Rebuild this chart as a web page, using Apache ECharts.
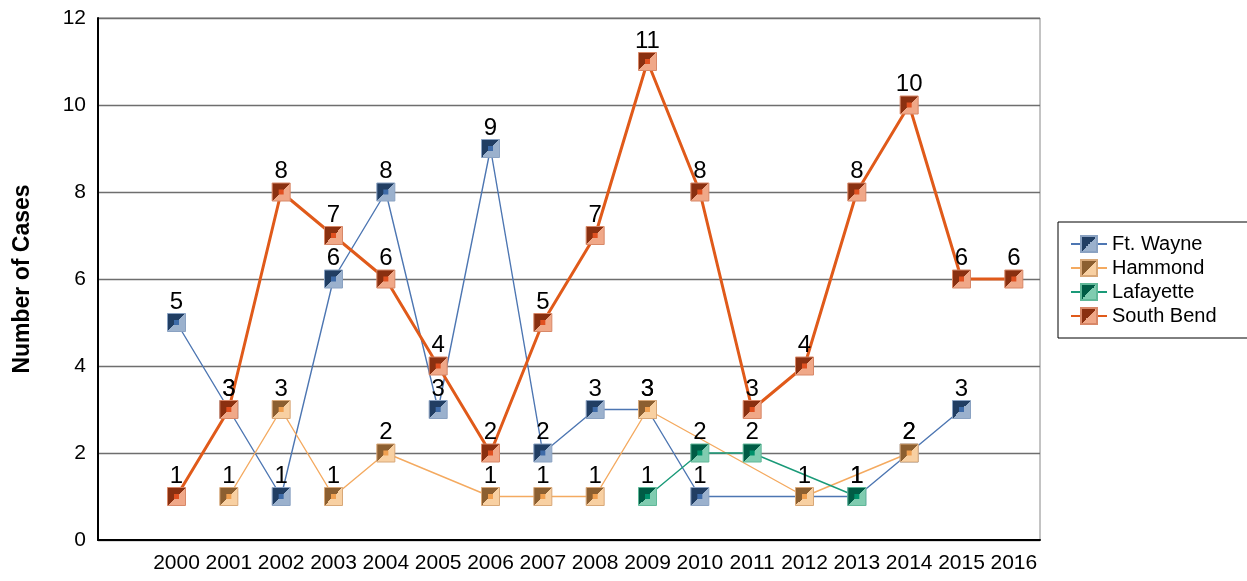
<!DOCTYPE html>
<html>
<head>
<meta charset="utf-8">
<script src="https://cdn.jsdelivr.net/npm/echarts@6/dist/echarts.min.js"></script>
<style>html,body{margin:0;padding:0;background:#fff}#c{width:1247px;height:581px}</style>
</head>
<body>
<div id="c"></div>
<script>
// Years (a blank leading slot precedes 2000 in the original chart)
var years = ['', '2000','2001','2002','2003','2004','2005','2006','2007','2008','2009','2010','2011','2012','2013','2014','2015','2016'];
var yTicks = [0, 2, 4, 6, 8, 10, 12];
//                 ''    2000 2001 2002 2003 2004 2005 2006 2007 2008 2009 2010 2011  2012  2013 2014 2015 2016
var ftWayne   = [null,  5,   3,   1,   6,   8,   3,   9,   2,   3,   3,   1,  null, null, 1,   2,   3,  null];
var hammond   = [null, null, 1,   3,   1,   2,  null, 1,   1,   1,   3,  null, null, 1,  null, 2,  null, null];
var lafayette = [null, null,null,null,null,null,null,null,null,null, 1,   2,   2,  null, 1,  null, null, null];
var southBend = [null,  1,   3,   8,   7,   6,   4,   2,   5,   7,  11,   8,   3,   4,   8,  10,   6,   6];

var FONT = '"Liberation Sans", Arial, sans-serif';
var styles = [
  {name:'Ft. Wayne',  data:ftWayne,   dark:'#213e63', light:'#9bb1cd', center:'#3e6ba8', line:'#4d76b2', lw:1.4, border:'#8aa2c2'},
  {name:'Hammond',    data:hammond,   dark:'#8c5f30', light:'#f8d0a2', center:'#f0a050', line:'#f4aa60', lw:1.4, border:'#d8a878'},
  {name:'Lafayette',  data:lafayette, dark:'#005c45', light:'#80ccb0', center:'#00906a', line:'#1a9a78', lw:1.4, border:'#60b898'},
  {name:'South Bend', data:southBend, dark:'#8a3010', light:'#f0a888', center:'#e05020', line:'#e05a1a', lw:3,   border:'#d88868'}
];

var series = [];
styles.forEach(function(s){
  series.push({
    name: s.name, type:'line', data: s.data, connectNulls:true,
    symbol:'rect', symbolSize:18, showSymbol:true,
    lineStyle:{color:s.line, width:s.lw},
    itemStyle:{
      color: new echarts.graphic.LinearGradient(0,0,1,1,[
        {offset:0, color:s.dark},{offset:0.5, color:s.dark},
        {offset:0.5, color:s.light},{offset:1, color:s.light}]),
      borderColor:s.border, borderWidth:1
    },
    label:{show:true, position:'top', distance:-1, color:'#000', fontSize:24, fontFamily:FONT},
    emphasis:{disabled:true},
    animation:false
  });
  series.push({
    name: s.name + ' center', type:'line', data: s.data, connectNulls:false,
    symbol:'rect', symbolSize:5, showSymbol:true, silent:true,
    lineStyle:{width:0, opacity:0},
    itemStyle:{color:s.center},
    label:{show:false},
    emphasis:{disabled:true},
    animation:false
  });
});

var chart = echarts.init(document.getElementById('c'));
chart.setOption({
  animation:false,
  backgroundColor:'#fff',
  grid:{left:98, right:207, top:18, bottom:41, show:true, borderColor:'#888', borderWidth:1},
  legend:{
    data: styles.map(function(s){return s.name;}),
    orient:'vertical', left:1058, top:222,
    padding:[12, 40, 12, 12], itemGap:4, itemWidth:36, itemHeight:20,
    borderColor:'#000', borderWidth:1,
    textStyle:{fontSize:20, color:'#000', fontFamily:FONT}
  },
  xAxis:{
    type:'category', data:years, boundaryGap:true,
    axisLine:{lineStyle:{color:'#000', width:2}},
    axisTick:{show:false},
    axisLabel:{interval:0, color:'#000', fontSize:21, fontFamily:FONT, margin:13},
    splitLine:{show:false}
  },
  yAxis:{
    type:'value', min:yTicks[0], max:yTicks[yTicks.length-1], interval:2,
    name:'Number of Cases', nameLocation:'middle', nameGap:64, nameRotate:90,
    nameTextStyle:{fontSize:23, fontWeight:'bold', color:'#000', fontFamily:FONT},
    axisLine:{show:true, lineStyle:{color:'#000', width:2}},
    axisTick:{show:false},
    axisLabel:{color:'#000', fontSize:21, fontFamily:FONT, margin:12},
    splitLine:{show:true, lineStyle:{color:'#6e6e6e', width:1.3}}
  },
  series: series
});
</script>
</body>
</html>
